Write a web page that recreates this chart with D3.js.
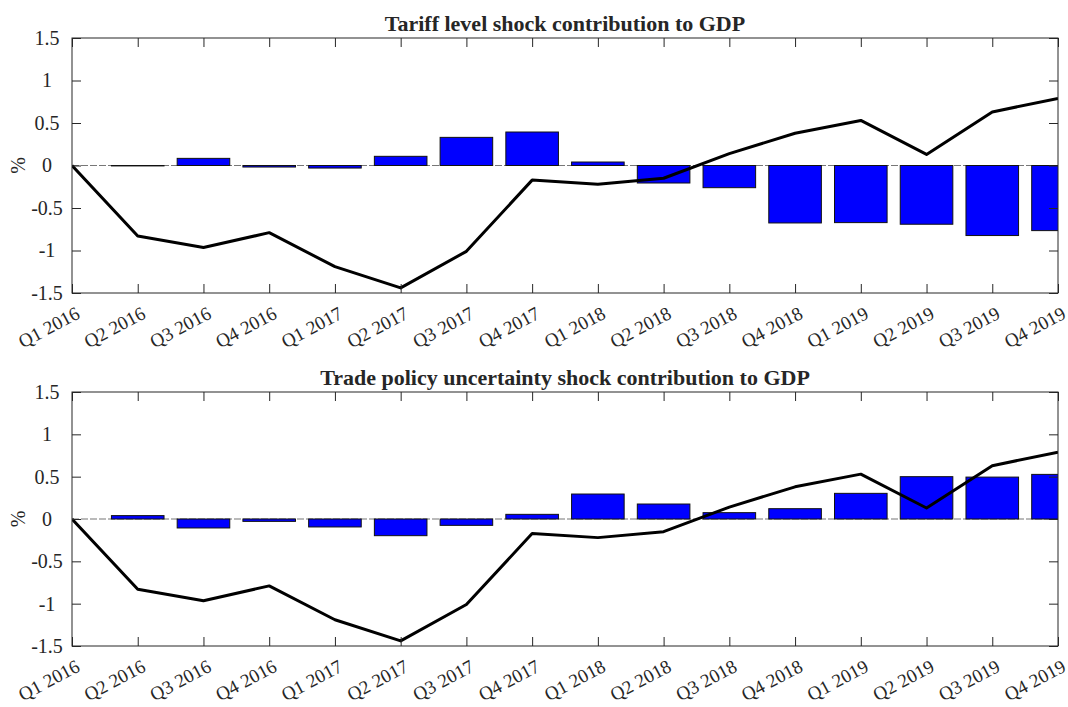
<!DOCTYPE html>
<html>
<head>
<meta charset="utf-8">
<script src="https://cdn.jsdelivr.net/npm/d3@7"></script>
<style>
  html, body { margin: 0; padding: 0; background: #fff; }
  svg { display: block; }
  text { font-family: "Liberation Serif", "Times New Roman", serif; fill: #262626; }
</style>
</head>
<body>
<svg id="chart" width="1068" height="707"></svg>
<script>
const categories = ["Q1 2016","Q2 2016","Q3 2016","Q4 2016","Q1 2017","Q2 2017","Q3 2017","Q4 2017",
                    "Q1 2018","Q2 2018","Q3 2018","Q4 2018","Q1 2019","Q2 2019","Q3 2019","Q4 2019"];
const gdpLine = [0, -0.83, -0.965, -0.79, -1.19, -1.44, -1.01, -0.172, -0.22, -0.15, 0.14, 0.38, 0.53, 0.13, 0.63, 0.79];
const tariffBars = [0, -0.005, 0.084, -0.018, -0.03, 0.108, 0.331, 0.394, 0.041, -0.206, -0.261, -0.676, -0.672, -0.691, -0.824, -0.766];
const uncertaintyBars = [0, 0.04, -0.106, -0.028, -0.094, -0.197, -0.075, 0.055, 0.295, 0.177, 0.075, 0.122, 0.303, 0.50, 0.495, 0.527];
const yTicks = [-1.5, -1, -0.5, 0, 0.5, 1, 1.5];
const titles = ["Tariff level shock contribution to GDP", "Trade policy uncertainty shock contribution to GDP"];

const svg = d3.select("#chart");
const left = 72, right = 1058;
const panels = [
  { top: 38, bottom: 293, bars: tariffBars, title: titles[0] },
  { top: 392, bottom: 646, bars: uncertaintyBars, title: titles[1] }
];

const x = d3.scalePoint().domain(categories).range([left, right]);
const step = x.step();
const barW = step * 0.8;
const axisColor = "#262626";
const tickLen = 9;

panels.forEach((p, i) => {
  const y = d3.scaleLinear().domain([-1.5, 1.5]).range([p.bottom, p.top]);
  const g = svg.append("g");

  const clipId = "clip" + i;
  svg.append("defs").append("clipPath").attr("id", clipId)
    .append("rect").attr("x", left).attr("y", p.top).attr("width", right - left).attr("height", p.bottom - p.top);

  const plot = g.append("g").attr("clip-path", `url(#${clipId})`);

  // baseline (dashed grey)
  plot.append("line")
    .attr("x1", left).attr("x2", right).attr("y1", y(0)).attr("y2", y(0))
    .attr("stroke", "#777").attr("stroke-width", 1.2).attr("stroke-dasharray", "7,2");

  // bars
  plot.selectAll("rect.bar").data(p.bars).join("rect")
    .attr("class", "bar")
    .attr("x", (d, j) => x(categories[j]) - barW / 2)
    .attr("width", barW)
    .attr("y", d => y(Math.max(0, d)))
    .attr("height", d => Math.abs(y(d) - y(0)))
    .attr("fill", "#0000ff")
    .attr("stroke", "#111")
    .attr("stroke-width", 1);

  // line
  const line = d3.line().x((d, j) => x(categories[j])).y(d => y(d));
  plot.append("path").datum(gdpLine)
    .attr("d", line).attr("fill", "none").attr("stroke", "#000").attr("stroke-width", 3)
    .attr("stroke-linejoin", "round");

  // box
  g.append("rect").attr("x", left).attr("y", p.top).attr("width", right - left).attr("height", p.bottom - p.top)
    .attr("fill", "none").attr("stroke", axisColor).attr("stroke-width", 1);

  // axes via d3
  const yAxisL = d3.axisLeft(y).tickValues(yTicks).tickSize(-tickLen).tickPadding(0).tickFormat(d3.format(""));
  const gy = g.append("g").attr("transform", `translate(${left},0)`).call(yAxisL);
  const yAxisR = d3.axisRight(y).tickValues(yTicks).tickSize(-tickLen).tickFormat("");
  const gyr = g.append("g").attr("transform", `translate(${right},0)`).call(yAxisR);
  const xAxisB = d3.axisBottom(x).tickSize(-tickLen).tickFormat("");
  const gxb = g.append("g").attr("transform", `translate(0,${p.bottom})`).call(xAxisB);
  const xAxisT = d3.axisTop(x).tickSize(-tickLen).tickFormat("");
  const gxt = g.append("g").attr("transform", `translate(0,${p.top})`).call(xAxisT);
  [gy, gyr, gxb, gxt].forEach(a => {
    a.select(".domain").remove();
    a.selectAll(".tick line").attr("stroke", axisColor);
  });
  gy.selectAll(".tick text")
    .attr("x", 47 - left)
    .attr("text-anchor", "middle")
    .style("font-family", '"Liberation Serif", serif').style("font-size", "20px").attr("fill", axisColor)
    .text(d => d3.format("")(d).replace("−", "-"));

  // rotated x labels
  g.selectAll("text.xl").data(categories).join("text")
    .attr("class", "xl")
    .attr("transform", d => `translate(${x(d) + 3},${p.bottom + 13}) rotate(-28)`)
    .attr("text-anchor", "end")
    .attr("dy", "0.68em")
    .style("font-size", "19px")
    .text(d => d);

  // y label
  g.append("text")
    .attr("transform", `translate(18,${y(0)}) rotate(-90)`)
    .attr("text-anchor", "middle")
    .attr("dy", "0.35em")
    .style("font-size", "20px")
    .text("%");

  // title
  g.append("text")
    .attr("x", (left + right) / 2).attr("y", p.top - 7)
    .attr("text-anchor", "middle")
    .style("font-size", "22px").style("font-weight", "bold").attr("fill", "#000")
    .text(p.title);
});
</script>
</body>
</html>
